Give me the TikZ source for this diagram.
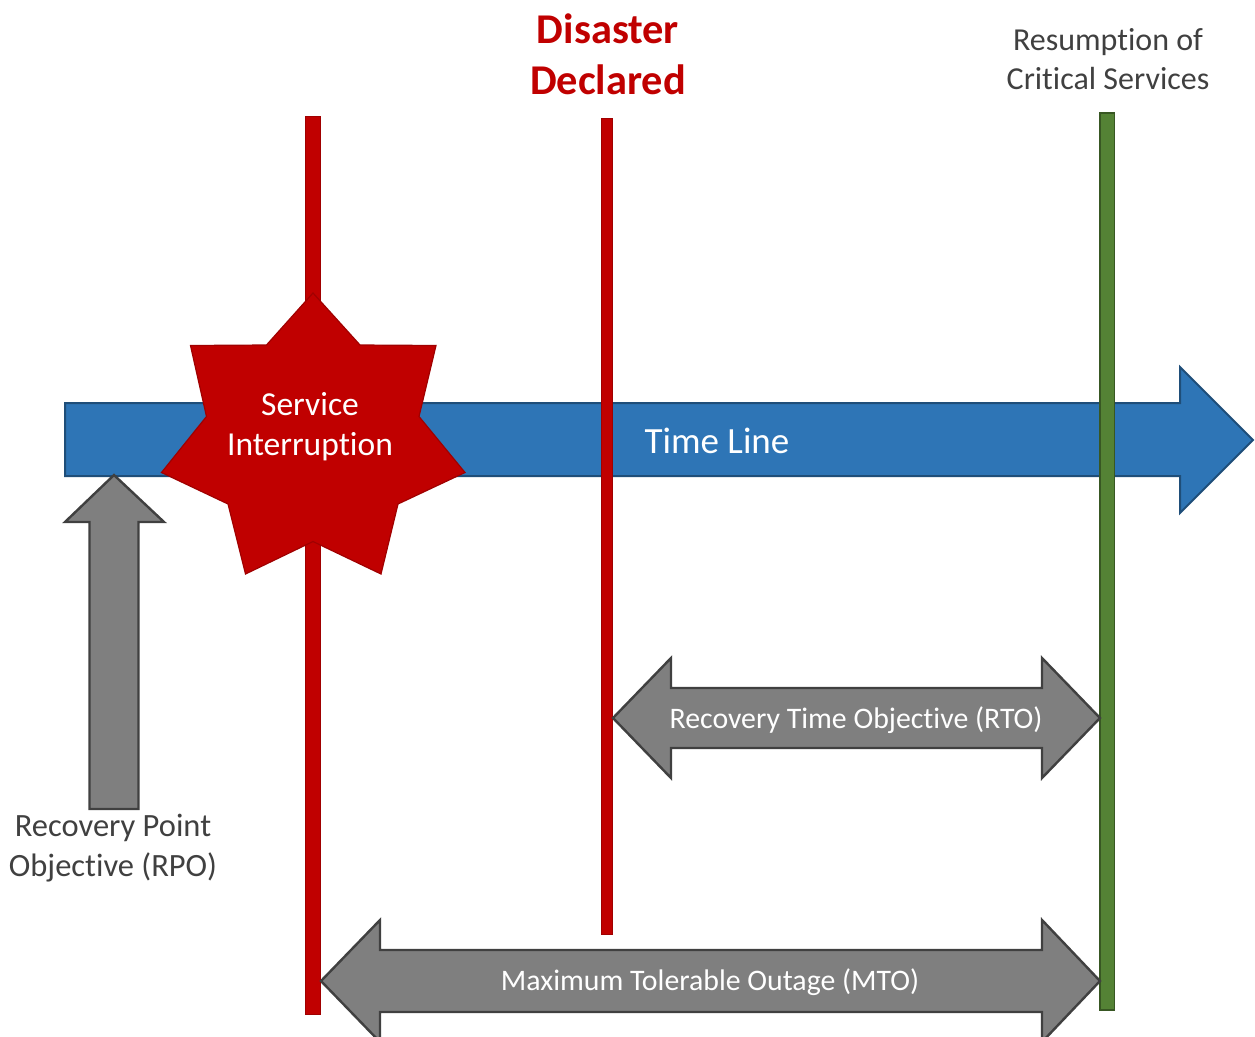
\documentclass[tikz,border=0pt]{standalone}
\usepackage{fontspec}
\setmainfont{Carlito}[Ligatures={NoCommon}]
\definecolor{barred}{HTML}{C00000}
\definecolor{starline}{HTML}{A00000}
\definecolor{lineblue}{HTML}{2E75B6}
\definecolor{lineblueedge}{HTML}{1F4E79}
\definecolor{okgreen}{HTML}{548235}
\definecolor{okgreenedge}{HTML}{385723}
\definecolor{arrowgray}{HTML}{7F7F7F}
\definecolor{arrowedge}{HTML}{404040}
\definecolor{labelgray}{HTML}{404040}
\begin{document}
\begin{tikzpicture}[x=1pt,y=-1pt,
  timeline/.style={fill=lineblue,draw=lineblueedge,line width=2pt,line join=miter},
  redbar/.style={fill=barred,draw=starline,line width=0.6pt},
  greenbar/.style={fill=okgreen,draw=okgreenedge,line width=1.5pt},
  burst/.style={fill=barred,draw=starline,line width=1.2pt,line join=miter},
  grayarrow/.style={fill=arrowgray,draw=arrowedge,line width=2.4pt,line join=miter},
  bigtxt/.style={font=\fontsize{32.5}{40}\selectfont,align=center,inner sep=0pt},
  arrowtxt/.style={font=\fontsize{29.8}{35}\selectfont,text=white,inner sep=0pt},
  headtxt/.style={font=\bfseries\fontsize{42.4}{51}\selectfont,text=barred,align=center,inner sep=0pt}]
\useasboundingbox (0,0) rectangle (1255,1036);
\clip (0,0) rectangle (1255,1036);

% the time line arrow
\draw[timeline] (65,403) -- (1180,403) -- (1180,367) -- (1253,440)
  -- (1180,513) -- (1180,476) -- (65,476) -- cycle;
\node[bigtxt,font=\fontsize{37}{44}\selectfont,text=white] (timeline) at (717,441) {Time Line};

% interruption marker and its burst
\filldraw[redbar] (305.5,116) rectangle (320.5,1014);
\draw[burst] (313,293) -- (360,345) -- (436,345.5) -- (419,416.5) -- (465,472.5)
  -- (398,504) -- (381,574) -- (313,541.5) -- (245.5,574) -- (228,504)
  -- (161.5,472.5) -- (206.5,416.5) -- (190.5,345.5) -- (266.5,345) -- cycle;
\node[bigtxt,font=\fontsize{33.5}{40}\selectfont,text=white] (interrupt) at (310,427) {Service\\Interruption};

% declaration marker
\filldraw[redbar] (601.5,118) rectangle (612,934);
\node[headtxt] (declared) at (608,54) {Disaster\\Declared};

% resumption marker
\filldraw[greenbar] (1100,113) rectangle (1114.5,1010);
\node[bigtxt,text=labelgray,font=\fontsize{32}{39}\selectfont] (resumed) at (1108,59) {Resumption of\\Critical Services};

% recovery point objective
\draw[grayarrow] (114,475) -- (164,522) -- (138.5,522) -- (138.5,809)
  -- (89.5,809) -- (89.5,522) -- (65,522) -- cycle;
\node[bigtxt,text=labelgray] (rpo) at (113,848) {Recovery Point\\Objective (RPO)};

% recovery time objective
\draw[grayarrow] (613,718) -- (671,658) -- (671,688) -- (1042,688) -- (1042,658)
  -- (1100,718) -- (1042,778) -- (1042,748) -- (671,748) -- (671,778) -- cycle;
\node[arrowtxt] (rto) at (856,720) {Recovery Time Objective (RTO)};

% maximum tolerable outage
\draw[grayarrow] (321,981) -- (380,920) -- (380,950) -- (1042,950) -- (1042,920)
  -- (1100,981) -- (1042,1042) -- (1042,1012) -- (380,1012) -- (380,1042) -- cycle;
\node[arrowtxt] (mto) at (710,982) {Maximum Tolerable Outage (MTO)};
\end{tikzpicture}
\end{document}
